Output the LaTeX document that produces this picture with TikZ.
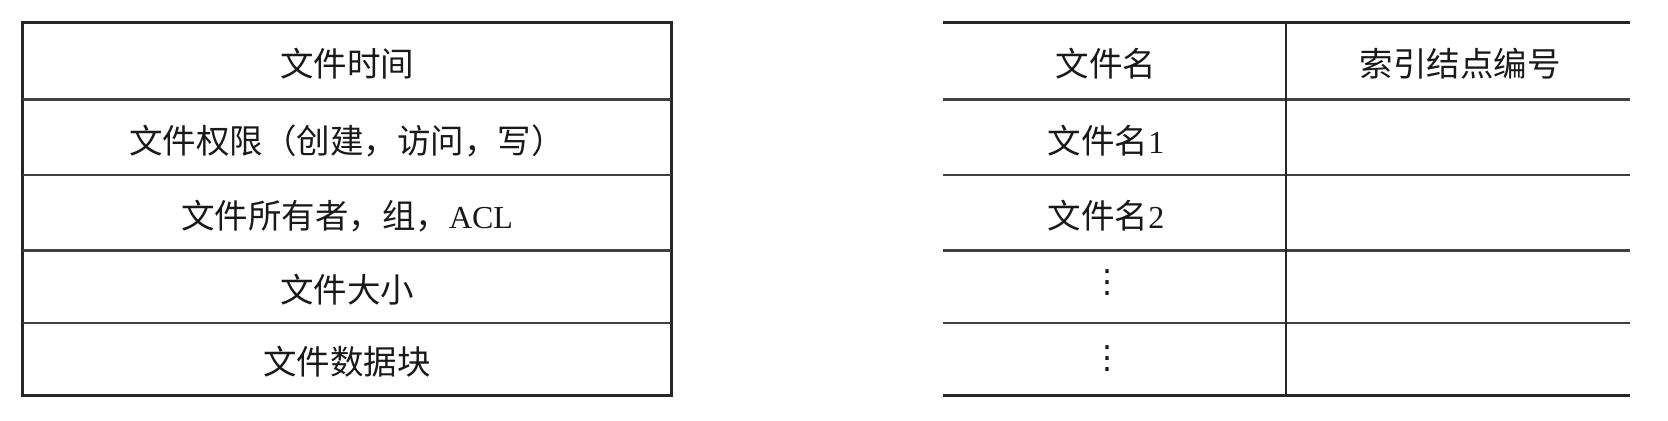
\documentclass[tikz,border=0pt]{standalone}
\usepackage{fontspec}
\setmainfont{Liberation Serif}
\newfontfamily\cjk{Noto Sans CJK SC}
\newfontfamily\symf{DejaVu Sans}
\newcommand\latn[1]{{\fontsize{16}{20}\rmfamily #1}}
\begin{document}
\begin{tikzpicture}[x=0.5pt,y=-0.5pt,
  outerline/.style={line width=1.5pt, draw=black!85},
  innerline/.style={line width=1.1pt, draw=black!75},
  midline/.style={line width=0.9pt, draw=black!85},
  celltext/.style={font=\fontsize{16.75}{20}\cjk, inner sep=0pt, text=black!90},
  dotstext/.style={font=\fontsize{16}{20}\symf, inner sep=0pt, text=black!90}]
\useasboundingbox (0,0) rectangle (1668,420);
% left table
\draw[outerline] (22.5,22.5) rectangle (671,395.5);
\foreach \y in {99.5,175,250.5,323} \draw[innerline] (22.5,\y) -- (671,\y);
\node[celltext] (t1) at (347,64) {文件时间};
\node[celltext] (t2) at (347,141) {文件权限（创建，访问，写）};
\node[celltext] (t3) at (347,216) {文件所有者，组，\latn{ACL}};
\node[celltext] (t4) at (347,290) {文件大小};
\node[celltext] (t5) at (347,362) {文件数据块};
% right table
\draw[outerline] (943,22.5) -- (1630,22.5);
\draw[outerline] (943,395.5) -- (1630,395.5);
\foreach \y in {99.5,175,250.5,323} \draw[innerline] (943,\y) -- (1630,\y);
\draw[midline] (1286,22.5) -- (1286,395.5);
\node[celltext] (h1) at (1106,64) {文件名};
\node[celltext] (h2) at (1460,64) {索引结点编号};
\node[celltext] (r1) at (1106,141) {文件名\latn{1}};
\node[celltext] (r2) at (1106,216) {文件名\latn{2}};
\node[dotstext] (d1) at (1107,283) {⋮};
\node[dotstext] (d2) at (1107,359) {⋮};
\end{tikzpicture}
\end{document}
